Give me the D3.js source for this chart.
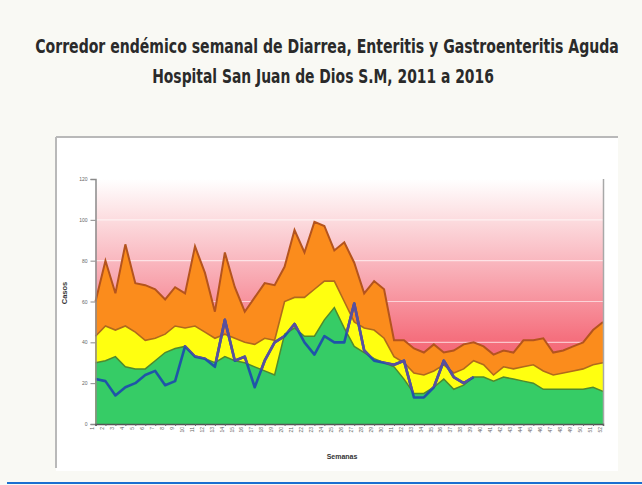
<!DOCTYPE html>
<html><head><meta charset="utf-8">
<script src="https://cdn.jsdelivr.net/npm/d3@7"></script>
<style>
html,body{margin:0;padding:0;background:#f9f9f4;}
svg{display:block;}
</style></head>
<body>
<svg id="chart" width="642" height="485"></svg>
<script>
const titleLines = ["Corredor endémico semanal de Diarrea, Enteritis y Gastroenteritis Aguda",
                    "Hospital San Juan de Dios S.M, 2011 a 2016"];
const yTicks = [0, 20, 40, 60, 80, 100, 120];
const weeks = d3.range(1, 53);
// Zona de alerta (Q3)
const q3 = [60,80,64,88,69,68,66,61,67,64,87,74,55,84,67,55,62,69,68,77,95,84,99,97,85,89,79,64,70,66,41,41,37,35,39,35,36,39,40,38,34,36,35,41,41,42,35,36,38,40,46,50];
// Zona de seguridad (mediana)
const median = [43,48,46,48,45,41,42,44,48,47,48,45,42,44,42,40,39,42,41,60,62,62,66,70,70,60,50,47,46,42,33,30,25,24,26,29,25,27,31,29,24,28,27,28,29,26,24,25,26,27,29,30];
// Zona de éxito (Q1)
const q1 = [30,31,33,28,27,27,31,35,37,38,33,32,30,33,31,30,28,26,24,44,47,43,43,51,57,47,38,35,32,30,28,22,15,15,18,22,17,19,23,23,21,23,22,21,20,17,17,17,17,17,18,16];
// Casos año actual
const casos = [22,21,14,18,20,24,26,19,21,38,33,32,28,51,31,33,18,31,40,43,49,40,34,43,40,40,59,36,31,30,29,31,13,13,18,31,23,20,23];

const svg = d3.select("#chart");
const x = d3.scaleLinear().domain([1, 52]).range([95.5, 603]);
const y = d3.scaleLinear().domain([0, 120]).range([424, 179]);

// frame
svg.append("rect").attr("x",56).attr("y",137).attr("width",562).attr("height",334).attr("fill","#ffffff");
svg.append("line").attr("x1",56).attr("x2",618).attr("y1",137).attr("y2",137).attr("stroke","#b9b9b9").attr("stroke-width",2);
svg.append("line").attr("x1",56).attr("x2",56).attr("y1",137).attr("y2",468).attr("stroke","#b9b9b9").attr("stroke-width",2);
svg.append("line").attr("x1",7).attr("x2",642).attr("y1",483).attr("y2",483).attr("stroke","#1a6fd0").attr("stroke-width",2);

// title (horizontally squeezed to mimic a narrow bold face)
const tg = svg.append("g").attr("font-family","'DejaVu Sans Condensed','Liberation Sans',Arial,sans-serif")
  .attr("font-weight","bold").attr("fill","#2a2a2a");
[[titleLines[0],327,53,584],[titleLines[1],323,83,342]].forEach(([t,cx,cy,w])=>{
  const g = tg.append("g");
  const txt = g.append("text").attr("x",0).attr("y",0).attr("font-size",19).text(t);
  const nat = txt.node().getComputedTextLength();
  const s = w / nat;
  txt.attr("text-anchor","middle");
  g.attr("transform",`translate(${cx},${cy}) scale(${s},1)`);
});

// background gradient
const defs = svg.append("defs");
const grad = defs.append("linearGradient").attr("id","bg").attr("x1",0).attr("y1",0).attr("x2",0).attr("y2",1);
[[0,"#ffffff"],[0.12,"#fde6e8"],[0.35,"#f9b4bc"],[0.65,"#f5707e"],[1,"#f24c5c"]].forEach(s=>
  grad.append("stop").attr("offset",s[0]).attr("stop-color",s[1]));
svg.append("rect").attr("x",x(1)).attr("y",y(120)).attr("width",x(52)-x(1)).attr("height",y(0)-y(120)).attr("fill","url(#bg)");

// gridlines
svg.append("g").selectAll("line").data(yTicks.filter(t=>t>0&&t<120)).join("line")
  .attr("x1",x(1)).attr("x2",x(52)).attr("y1",d=>y(d)).attr("y2",d=>y(d))
  .attr("stroke","#ffffff").attr("stroke-opacity",0.6).attr("stroke-width",1.2);

const idx = d3.range(52);
const area = arr => d3.area().x(i=>x(weeks[i])).y0(y(0)).y1(i=>y(arr[i]));
const line = arr => d3.line().x(i=>x(weeks[i])).y(i=>y(arr[i]));

svg.append("path").attr("d",area(q3)(idx)).attr("fill","#fb8c1c");
svg.append("path").attr("d",line(q3)(idx)).attr("fill","none").attr("stroke","#b4541e").attr("stroke-width",2);
svg.append("path").attr("d",area(median)(idx)).attr("fill","#ffff10");
svg.append("path").attr("d",line(median)(idx)).attr("fill","none").attr("stroke","#b06a1c").attr("stroke-width",1.6);
svg.append("path").attr("d",area(q1)(idx)).attr("fill","#36cc66");
svg.append("path").attr("d",line(q1)(idx)).attr("fill","none").attr("stroke","#4f8a2e").attr("stroke-width",1.5);

// current-year line
const cidx = d3.range(casos.length);
const cline = d3.line().x(i=>x(weeks[i])).y(i=>y(casos[i]));
svg.append("path").attr("d",cline(cidx)).attr("fill","none").attr("stroke","#1f55a8").attr("stroke-width",2.6).attr("stroke-linejoin","round");
defs.append("clipPath").attr("id","above").append("path")
  .attr("d", d3.area().x(i=>x(weeks[i])).y0(y(120)).y1(i=>y(q1[i]))(idx));
svg.append("path").attr("d",cline(cidx)).attr("fill","none").attr("stroke","#5a4f9e").attr("stroke-width",2.6)
  .attr("stroke-linejoin","round").attr("clip-path","url(#above)");

// right edge
svg.append("line").attr("x1",x(52)+0.5).attr("x2",x(52)+0.5).attr("y1",y(120)).attr("y2",y(0)).attr("stroke","#a8a8a8").attr("stroke-width",1.5);

// axes
const yAxis = d3.axisLeft(y).tickValues(yTicks).tickSize(5).tickPadding(3);
const ya = svg.append("g").attr("transform",`translate(${x(1)},0)`).call(yAxis);
ya.select(".domain").attr("stroke","#8a8a8a").attr("stroke-width",1.5);
ya.selectAll(".tick line").attr("stroke","#8a8a8a");
ya.selectAll("text").attr("font-size",5).attr("fill","#666").attr("font-family","Arial, sans-serif");

const xAxis = d3.axisBottom(x).tickValues(weeks).tickSize(2).tickFormat(d3.format("d"));
const xa = svg.append("g").attr("transform",`translate(0,${y(0)})`).call(xAxis);
xa.select(".domain").attr("stroke","#555").attr("stroke-width",1.5);
xa.selectAll(".tick line").attr("stroke","#666");
xa.selectAll("text").attr("font-size",5).attr("fill","#666").attr("font-family","Arial, sans-serif")
  .attr("transform","rotate(-90)").attr("text-anchor","end").attr("dx","-3").attr("dy","-1.8").attr("y",0).attr("x",0);

// axis titles
svg.append("text").attr("transform","translate(67,293) rotate(-90)").attr("text-anchor","middle")
  .attr("font-family","Arial, sans-serif").attr("font-weight","bold").attr("font-size",7.5).attr("fill","#333").text("Casos");
svg.append("text").attr("x",342).attr("y",459).attr("text-anchor","middle")
  .attr("font-family","Arial, sans-serif").attr("font-weight","bold").attr("font-size",7).attr("fill","#333").text("Semanas");
</script>
</body></html>
